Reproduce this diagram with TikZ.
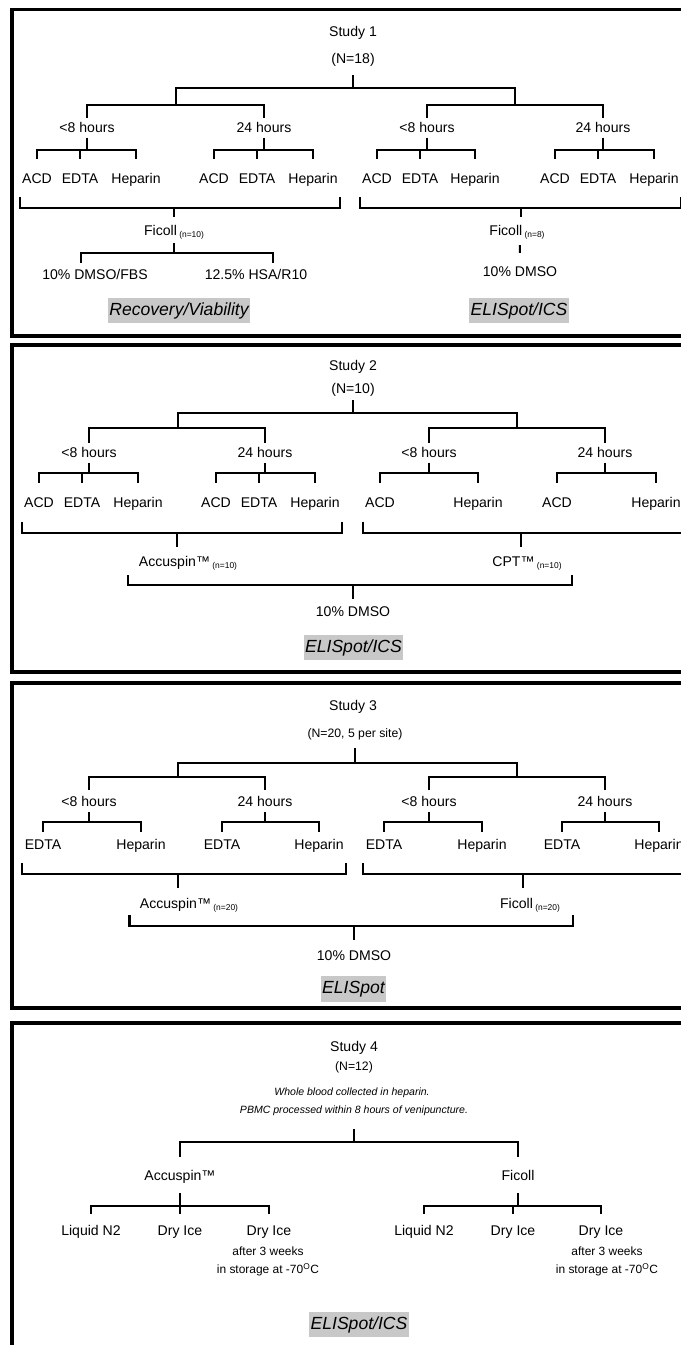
\documentclass[tikz,border=0pt]{standalone}
\usepackage{fontspec}
\setmainfont{Liberation Sans}
\definecolor{resgray}{RGB}{200,200,200}
\newcommand\nsub[1]{\,\raisebox{-1.3pt}{\fontsize{6}{7}\selectfont(n=#1)}}
\tikzset{
  lbl/.style={font=\fontsize{10}{12}\selectfont, inner sep=1.5pt, text height=7.2pt, text depth=2.1pt},
  sml/.style={font=\fontsize{8.7}{10}\selectfont, inner sep=1pt, text height=6.2pt, text depth=1.8pt},
  note/.style={font=\fontsize{7.5}{9}\selectfont\itshape, inner sep=1pt, text height=5.4pt, text depth=1.6pt},
  store/.style={font=\fontsize{8.5}{12.8}\selectfont, align=center, inner sep=1pt},
  tree/.style={line width=1.5pt},
  panel/.style={line width=2.8pt},
  res/.style={fill=resgray, font=\fontsize{12.5}{14}\selectfont\itshape, inner xsep=1pt, inner ysep=3pt, text height=9.2pt, text depth=2.6pt}
}

\begin{document}
\begin{tikzpicture}[x=0.025cm, y=-0.025cm]
                \useasboundingbox (0,0) rectangle (681,1345);
                \clip (0,0) rectangle (681,1345);
                \draw[panel] (12,9.5) rectangle (720,336);
                \draw[panel] (12,344.7) rectangle (720,672);
                \draw[panel] (12,683) rectangle (720,1008);
                \draw[panel] (12,1023) rectangle (720,1400);

                % Study 1
                \node[lbl] (s1) at (353,33) {Study 1};
                \node[lbl] (n1) at (353,60) {(N=18)};
                \coordinate (j1a) at (176,105);
                \coordinate (j1b) at (515,105);
                \foreach \nm/\x/\t in {A/87/<8 hours, B/264/24 hours, C/427/<8 hours, D/603/24 hours}
                \node[lbl] (h1\nm) at (\x,129) {\t};
                \foreach \nm/\x/\t in {A1/37/ACD, A2/80/EDTA, A3/136/Heparin, B1/214/ACD, B2/257/EDTA, B3/313/Heparin, C1/377/ACD, C2/420/EDTA, C3/475/Heparin, D1/555/ACD, D2/598/EDTA, D3/654/Heparin}
                \node[lbl] (l1\nm) at (\x,180) {\t};
                \foreach \j in {a,b}
                \draw[tree, shorten >=4.5pt] (j1\j) -- ++(0,-17) -| (n1.south);
                \foreach \j/\g in {a/A, a/B, b/C, b/D}
                \draw[tree, shorten >=1.7pt] (j1\j) -| (h1\g.north);
                \foreach \g in {A,B,C,D}
                {
                \foreach \i in {1,2,3}
                \draw[tree, shorten >=8.8pt] (h1\g.south) -- ++(0,12.35) -| (l1\g\i.north);
                }
                \node[lbl] (f1a) at (174,232) {Ficoll\nsub{10}};
                \node[lbl] (f1b) at (517,232) {Ficoll\nsub{8}};
                \foreach \e in {l1A1.south west, l1B3.south east}
                \draw[tree, shorten >=4.5pt] ([yshift=-6pt]\e) -- ++(0,11) -| (f1a.north);
                \foreach \e in {l1C1.south west, l1D3.south east}
                \draw[tree, shorten >=4.5pt] ([yshift=-6pt]\e) -- ++(0,11) -| ([xshift=3pt]f1b.north);
                \node[lbl] (d1a) at (95,276) {10\% DMSO/FBS};
                \node[lbl] (d1b) at (256,276) {12.5\% HSA/R10};
                \node[lbl] (d1c) at (520,273) {10\% DMSO};
                \draw[tree, shorten <=1.7pt, shorten >=3pt] (f1a.south) -- ++(0,12.35) -| ([xshift=-10pt]d1a.north);
                \draw[tree, shorten <=1.7pt, shorten >=3pt] (f1a.south) -- ++(0,12.35) -| ([xshift=12pt]d1b.north);
                \draw[tree, shorten <=3pt, shorten >=8pt] ([xshift=2pt]f1b.south) -- (d1c.north);
                \node[res] (r1a) at (179,310.5) {Recovery/Viability};
                \node[res] (r1b) at (519,310.5) {ELISpot/ICS};

                % Study 2
                \node[lbl] (s2) at (353,367) {Study 2};
                \node[lbl] (n2) at (353,390) {(N=10)};
                \coordinate (j2a) at (178,428);
                \coordinate (j2b) at (517,428);
                \foreach \nm/\x/\t in {A/89/<8 hours, B/265/24 hours, C/429/<8 hours, D/605/24 hours}
                \node[lbl] (h2\nm) at (\x,454) {\t};
                \foreach \nm/\x/\t in {A1/39/ACD, A2/82/EDTA, A3/138/Heparin, B1/216/ACD, B2/259/EDTA, B3/315/Heparin, C1/380/ACD, C3/478/Heparin, D1/557/ACD, D3/656/Heparin}
                \node[lbl] (l2\nm) at (\x,504) {\t};
                \foreach \j in {a,b}
                \draw[tree, shorten >=1pt] (j2\j) -- ++(0,-15) -| (n2.south);
                \foreach \j/\g in {a/A, a/B, b/C, b/D}
                \draw[tree, shorten >=1.7pt] (j2\j) -| (h2\g.north);
                \foreach \g/\i in {A/1,A/2,A/3,B/1,B/2,B/3,C/1,C/3,D/1,D/3}
                \draw[tree, shorten >=8.8pt] (h2\g.south) -- ++(0,10.35) -| (l2\g\i.north);
                \node[lbl] (a2) at (188,563) {Accuspin™\nsub{10}};
                \node[lbl] (c2) at (527,563) {CPT™\nsub{10}};
                \foreach \e in {l2A1.south west, l2B3.south east}
                \draw[tree, shorten >=4.8pt] ([yshift=-6.2pt]\e) -- ++(0,11) -| ([xshift=-8pt]a2.north);
                \foreach \e in {l2C1.south west, l2D3.south east}
                \draw[tree, shorten >=4.8pt] ([yshift=-6.2pt]\e) -- ++(0,11) -| ([xshift=-4pt]c2.north);
                \node[lbl] (d2) at (353,613) {10\% DMSO};
                \draw[tree, shorten >=3.8pt] ([xshift=-6.4pt,yshift=-2.4pt]a2.south west) -- ++(0,10) -| (d2.north);
                \draw[tree, shorten >=3.8pt] ([xshift=6pt,yshift=-2.4pt]c2.south east) -- ++(0,10) -| (d2.north);
                \node[res] (r2) at (353.5,647.5) {ELISpot/ICS};

                % Study 3
                \node[lbl] (s3) at (353,707) {Study 3};
                \node[sml] (n3) at (355,734) {(N=20, 5 per site)};
                \coordinate (j3a) at (178,777);
                \coordinate (j3b) at (517,777);
                \foreach \nm/\x/\t in {A/89/<8 hours, B/265/24 hours, C/429/<8 hours, D/605/24 hours}
                \node[lbl] (h3\nm) at (\x,803) {\t};
                \foreach \nm/\x/\t in {A1/43/EDTA, A3/141/Heparin, B1/222/EDTA, B3/319/Heparin, C1/384/EDTA, C3/482/Heparin, D1/562/EDTA, D3/659/Heparin}
                \node[lbl] (l3\nm) at (\x,846) {\t};
                \foreach \j in {a,b}
                \draw[tree, shorten >=5pt] (j3\j) -- ++(0,-14) -| (n3.south);
                \foreach \j/\g in {a/A, a/B, b/C, b/D}
                \draw[tree, shorten >=3pt] (j3\j) -| (h3\g.north);
                \foreach \g in {A,B,C,D}
                {
                \foreach \i in {1,3}
                \draw[tree, shorten >=3.8pt] (h3\g.south) -- ++(0,10.35) -| (l3\g\i.north);
                }
                \node[lbl] (a3) at (189,905) {Accuspin™\nsub{20}};
                \node[lbl] (f3) at (530,905) {Ficoll\nsub{20}};
                \foreach \e in {l3A1.south west, l3B3.south east}
                \draw[tree, shorten >=5.9pt] ([yshift=-5.9pt]\e) -- ++(0,11) -| ([xshift=-7.8pt]a3.north);
                \foreach \e in {l3C1.south west, l3D3.south east}
                \draw[tree, shorten >=5.9pt] ([yshift=-5.9pt]\e) -- ++(0,11) -| ([xshift=-5pt]f3.north);
                \node[lbl] (d3) at (354,957) {10\% DMSO};
                \draw[tree, shorten >=5.9pt] ([xshift=-5.7pt,yshift=-1pt]a3.south west) -- ++(0,11) -| (d3.north);
                \draw[tree, shorten >=5.9pt] ([xshift=7.4pt,yshift=-1pt]f3.south east) -- ++(0,11) -| (d3.north);
                \node[res] (r3) at (353.5,989) {ELISpot};

                % Study 4
                \node[lbl] (s4) at (354,1048) {Study 4};
                \node[sml] (n4) at (354,1067) {(N=12)};
                \node[note] (w4a) at (352,1093) {Whole blood collected in heparin.};
                \node[note] (w4b) at (354,1111) {PBMC processed within 8 hours of venipuncture.};
                \node[lbl] (a4) at (180,1177) {Accuspin™};
                \node[lbl] (f4) at (518,1177) {Ficoll};
                \foreach \t in {a4, f4}
                \draw[tree, shorten <=8.2pt, shorten >=8pt] (w4b.south) -- ++(0,24.7) -| (\t.north);
                \foreach \nm/\x/\t in {1/91/Liquid N2, 2/180/Dry Ice, 3/269/Dry Ice, 4/424/Liquid N2, 5/513/Dry Ice, 6/601/Dry Ice}
                \node[lbl] (l4\nm) at (\x,1232) {\t};
                \node[store] (x4a) at (268,1261) {after 3 weeks\\in storage at -70\textsuperscript{O}C};
                \node[store] (x4b) at (607,1261) {after 3 weeks\\in storage at -70\textsuperscript{O}C};
                \foreach \i in {1,2,3}
                \draw[tree, shorten <=5.2pt, shorten >=6.6pt] (a4.south) -- ++(0,20.35) -| (l4\i.north);
                \foreach \i in {4,5,6}
                \draw[tree, shorten <=5.2pt, shorten >=6.6pt] (f4.south) -- ++(0,20.35) -| (l4\i.north);
                \node[res] (r4) at (359,1324.5) {ELISpot/ICS};
\end{tikzpicture}
\end{document}
